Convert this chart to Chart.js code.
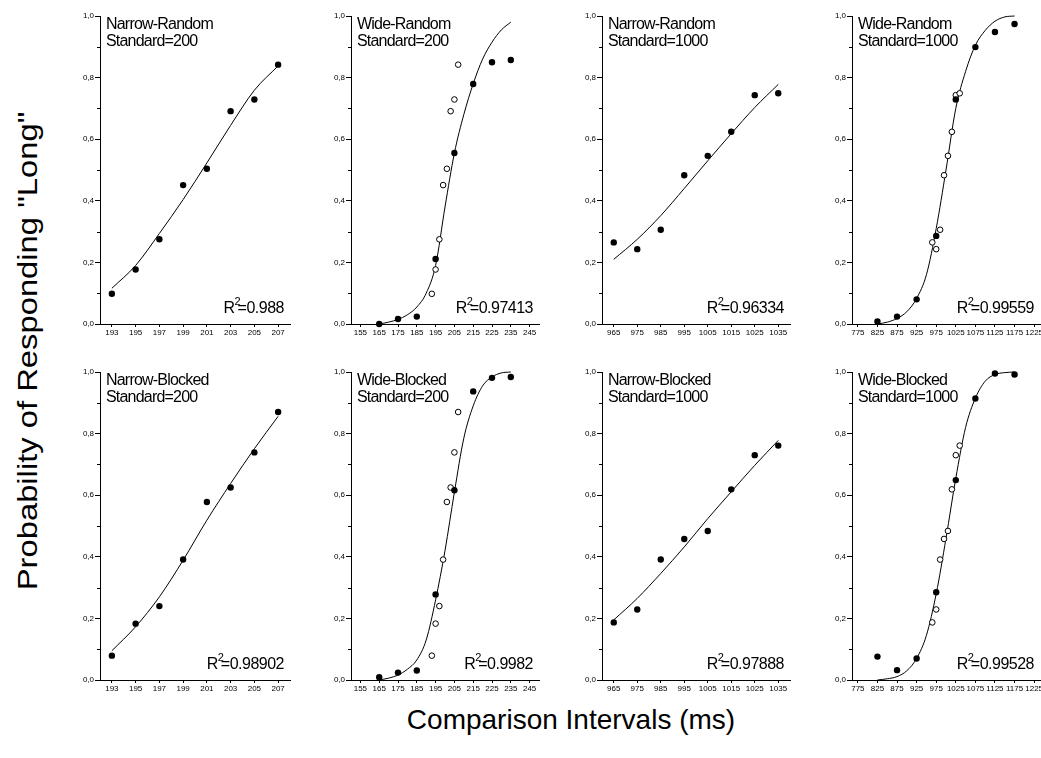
<!DOCTYPE html>
<html>
<head>
<meta charset="utf-8">
<script src="https://cdn.jsdelivr.net/npm/chart.js@4.4.1/dist/chart.umd.min.js"></script>
<style>
  html, body { margin: 0; padding: 0; background: #fff; overflow: hidden; width: 1041px; height: 758px; }
  canvas { position: absolute; }
  .axis-title { position: absolute; font-family: "Liberation Sans", Arial, sans-serif; font-size: 28px; color: #000; white-space: nowrap; }
</style>
</head>
<body>
<div class="axis-title" style="left:28px;top:351px;transform:translate(-50%,-50%) rotate(-90deg) scaleX(1.17);">Probability of Responding "Long"</div>
<div class="axis-title" style="left:571px;top:720px;transform:translate(-50%,-50%);">Comparison Intervals (ms)</div>
<script>
// comparison intervals
const narrowX200 = [193, 195, 197, 199, 201, 203, 205, 207];
const wideX200 = [165, 175, 185, 195, 205, 215, 225, 235];
const narrowX1000 = [965, 975, 985, 995, 1005, 1015, 1025, 1035];
const wideX1000 = [825, 875, 925, 975, 1025, 1075, 1125, 1175];

// proportion of "long" answers
const narrowRandom200 = [0.098, 0.177, 0.275, 0.451, 0.504, 0.691, 0.729, 0.842];
const wideRandom200 = [0.0, 0.016, 0.024, 0.211, 0.555, 0.779, 0.850, 0.857];
const narrowRandom1000 = [0.265, 0.243, 0.306, 0.483, 0.546, 0.624, 0.743, 0.749];
const wideRandom1000 = [0.008, 0.024, 0.080, 0.286, 0.729, 0.899, 0.948, 0.974];
const narrowBlocked200 = [0.079, 0.183, 0.240, 0.391, 0.578, 0.625, 0.739, 0.870];
const wideBlocked200 = [0.009, 0.024, 0.031, 0.278, 0.616, 0.937, 0.981, 0.984];
const narrowBlocked1000 = [0.187, 0.229, 0.391, 0.458, 0.484, 0.619, 0.730, 0.761];
const wideBlocked1000 = [0.076, 0.032, 0.070, 0.285, 0.649, 0.914, 0.995, 0.992];

// fitted curves
const fitWideX200 = [165, 170, 175, 180, 185, 190, 195, 200, 205, 210, 215, 220, 225, 230, 235];
const fitWideX1000 = [825, 850, 875, 900, 925, 950, 975, 1000, 1025, 1050, 1075, 1100, 1125, 1150, 1175];
const fitNarrowRandom200 = [0.116, 0.19, 0.294, 0.404, 0.523, 0.645, 0.759, 0.838];
const fitNarrowBlocked200 = [0.095, 0.173, 0.27, 0.389, 0.519, 0.638, 0.751, 0.856];
const fitNarrowRandom1000 = [0.21, 0.275, 0.352, 0.44, 0.53, 0.618, 0.703, 0.778];
const fitNarrowBlocked1000 = [0.195, 0.265, 0.346, 0.432, 0.524, 0.611, 0.697, 0.778];
const fitWideRandom200 = [0.0, 0.006, 0.015, 0.03, 0.055, 0.1, 0.19, 0.38, 0.555, 0.68, 0.78, 0.86, 0.915, 0.955, 0.98];
const fitWideBlocked200 = [0.0, 0.006, 0.016, 0.035, 0.065, 0.13, 0.26, 0.42, 0.61, 0.785, 0.89, 0.955, 0.984, 0.997, 1.0];
const fitWideRandom1000 = [0.0, 0.006, 0.018, 0.04, 0.083, 0.16, 0.31, 0.5, 0.70, 0.82, 0.905, 0.953, 0.983, 0.997, 1.0];
const fitWideBlocked1000 = [0.0, 0.004, 0.011, 0.03, 0.07, 0.145, 0.28, 0.46, 0.655, 0.82, 0.915, 0.97, 0.992, 0.998, 1.0];

// tick labels
const ticksNarrow200 = [193, 195, 197, 199, 201, 203, 205, 207];
const ticksWide200 = [155, 165, 175, 185, 195, 205, 215, 225, 235, 245];
const ticksNarrow1000 = [965, 975, 985, 995, 1005, 1015, 1025, 1035];
const ticksWide1000 = [775, 825, 875, 925, 975, 1025, 1075, 1125, 1175, 1225];
const ticksY = [0, 0.2, 0.4, 0.6, 0.8, 1.0];
const minorY = [0.1, 0.3, 0.5, 0.7, 0.9];

const rSquared = ["0.988", "0.97413", "0.96334", "0.99559", "0.98902", "0.9982", "0.97888", "0.99528"];

const FONT = '"Liberation Sans", Arial, sans-serif';
const NARROW = '"Liberation Sans Narrow", "Arial Narrow", "Liberation Sans", Arial, sans-serif';

Chart.defaults.font.family = FONT;
Chart.defaults.color = "#000";

const pts = (xs, ys) => xs.map((x, i) => ({ x: x, y: ys[i] }));

const minorTicks = {
    id: "minorTicks",
    afterDraw(chart) {
        const { ctx, chartArea: a, scales } = chart;
        ctx.save();
        ctx.strokeStyle = "#000";
        ctx.lineWidth = 1;
        minorY.forEach(v => {
            const y = Math.round(scales.y.getPixelForValue(v)) + 0.5;
            ctx.beginPath();
            ctx.moveTo(a.left - 3, y);
            ctx.lineTo(a.left, y);
            ctx.stroke();
        });
        ctx.restore();
    }
};

const panelText = {
    id: "panelText",
    afterDraw(chart, args, opts) {
        const { ctx, chartArea: a } = chart;
        ctx.save();
        ctx.fillStyle = "#000";
        ctx.letterSpacing = "-0.8px";
        ctx.font = "16px " + FONT;
        ctx.textAlign = "left";
        ctx.textBaseline = "alphabetic";
        ctx.fillText(opts.lines[0], a.left + 6, a.top + 12.5);
        ctx.fillText(opts.lines[1], a.left + 6, a.top + 29.5);

        // R² label, bottom right
        ctx.letterSpacing = "-0.5px";
        const rest = "=" + opts.r2;
        const w = ctx.measureText(rest).width;
        const x0 = a.right - 6 - w;
        const yb = a.bottom - 11;
        ctx.fillText(rest, x0, yb);
        ctx.textAlign = "right";
        ctx.fillText("R", x0 - 3, yb);
        ctx.font = "11px " + FONT;
        ctx.letterSpacing = "0px";
        ctx.textAlign = "left";
        ctx.fillText("2", x0 - 3, yb - 8);
        ctx.restore();
    }
};

function makePanel(box, range, xTicks, sets, lines, r2) {
    const padL = 45, padT = 12, padR = 12, padB = 22;
    const canvas = document.createElement("canvas");
    const w = box.right - box.left + padL + padR;
    const h = box.bottom - box.top + padT + padB;
    canvas.width = w;
    canvas.height = h;
    canvas.style.left = (box.left - padL) + "px";
    canvas.style.top = (box.top - padT) + "px";
    canvas.style.width = w + "px";
    canvas.style.height = h + "px";
    document.body.appendChild(canvas);

    const datasets = [{
        data: sets.fit,
        showLine: true,
        borderColor: "#000",
        borderWidth: 1,
        pointRadius: 0,
        cubicInterpolationMode: "monotone",
        clip: false,
        order: 3
    }];
    if (sets.open) {
        datasets.push({
            data: sets.open,
            pointRadius: 2.8,
            backgroundColor: "#fff",
            borderColor: "#000",
            borderWidth: 1,
            clip: false,
            order: 2
        });
    }
    datasets.push({
        data: sets.filled,
        pointRadius: 3.2,
        backgroundColor: "#000",
        borderWidth: 0,
        clip: false,
        order: 1
    });

    new Chart(canvas, {
        type: "scatter",
        data: { datasets: datasets },
        options: {
            responsive: false,
            animation: false,
            events: [],
            layout: { padding: { top: padT, right: padR, left: 0, bottom: 0 } },
            plugins: {
                legend: { display: false },
                tooltip: { enabled: false },
                panelText: { lines: lines, r2: r2 }
            },
            scales: {
                x: {
                    type: "linear",
                    min: range[0],
                    max: range[1],
                    afterBuildTicks: s => { s.ticks = xTicks.map(v => ({ value: v })); },
                    afterFit: s => { s.height = padB; },
                    grid: { drawOnChartArea: false, tickLength: 3, color: "#000" },
                    border: { color: "#000", width: 1 },
                    ticks: {
                        font: { size: 8, family: NARROW },
                        padding: 1,
                        maxRotation: 0,
                        autoSkip: false,
                        callback: v => String(v)
                    }
                },
                y: {
                    type: "linear",
                    min: 0,
                    max: 1,
                    afterBuildTicks: s => { s.ticks = ticksY.map(v => ({ value: v })); },
                    afterFit: s => { s.width = padL; },
                    grid: { drawOnChartArea: false, tickLength: 5, color: "#000" },
                    border: { color: "#000", width: 1 },
                    ticks: {
                        font: { size: 8, family: NARROW },
                        padding: 1,
                        callback: v => v.toFixed(1).replace(".", ",")
                    }
                }
            }
        },
        plugins: [minorTicks, panelText]
    });
}

const cols = [[100, 290], [351, 539], [602, 790], [852, 1040]];
const rows = [[16, 324], [372, 680]];
const box = (r, c) => ({ left: cols[c][0], right: cols[c][1], top: rows[r][0], bottom: rows[r][1] });

// top row: random presentation
makePanel(box(0, 0), [192, 208], ticksNarrow200,
    { fit: pts(narrowX200, fitNarrowRandom200), filled: pts(narrowX200, narrowRandom200) },
    ["Narrow-Random", "Standard=200"], rSquared[0]);
makePanel(box(0, 1), [150, 250], ticksWide200,
    { fit: pts(fitWideX200, fitWideRandom200), open: pts(narrowX200, narrowRandom200), filled: pts(wideX200, wideRandom200) },
    ["Wide-Random", "Standard=200"], rSquared[1]);
makePanel(box(0, 2), [960, 1040], ticksNarrow1000,
    { fit: pts(narrowX1000, fitNarrowRandom1000), filled: pts(narrowX1000, narrowRandom1000) },
    ["Narrow-Random", "Standard=1000"], rSquared[2]);
makePanel(box(0, 3), [760, 1240], ticksWide1000,
    { fit: pts(fitWideX1000, fitWideRandom1000), open: pts(narrowX1000, narrowRandom1000), filled: pts(wideX1000, wideRandom1000) },
    ["Wide-Random", "Standard=1000"], rSquared[3]);

// bottom row: blocked presentation
makePanel(box(1, 0), [192, 208], ticksNarrow200,
    { fit: pts(narrowX200, fitNarrowBlocked200), filled: pts(narrowX200, narrowBlocked200) },
    ["Narrow-Blocked", "Standard=200"], rSquared[4]);
makePanel(box(1, 1), [150, 250], ticksWide200,
    { fit: pts(fitWideX200, fitWideBlocked200), open: pts(narrowX200, narrowBlocked200), filled: pts(wideX200, wideBlocked200) },
    ["Wide-Blocked", "Standard=200"], rSquared[5]);
makePanel(box(1, 2), [960, 1040], ticksNarrow1000,
    { fit: pts(narrowX1000, fitNarrowBlocked1000), filled: pts(narrowX1000, narrowBlocked1000) },
    ["Narrow-Blocked", "Standard=1000"], rSquared[6]);
makePanel(box(1, 3), [760, 1240], ticksWide1000,
    { fit: pts(fitWideX1000, fitWideBlocked1000), open: pts(narrowX1000, narrowBlocked1000), filled: pts(wideX1000, wideBlocked1000) },
    ["Wide-Blocked", "Standard=1000"], rSquared[7]);
</script>
</body>
</html>
